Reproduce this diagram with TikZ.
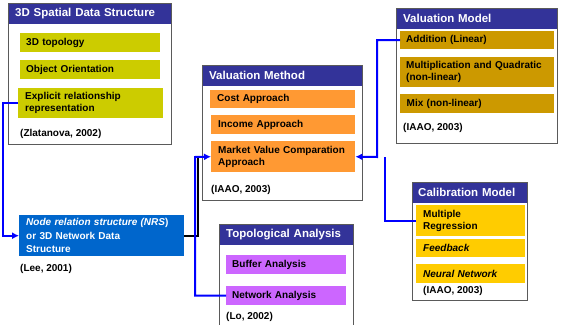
\documentclass[tikz,border=0pt]{standalone}
\usepackage{fontspec}
\setmainfont{Liberation Sans}
\usetikzlibrary{arrows.meta}
\definecolor{hdr}{HTML}{333399}
\definecolor{olivey}{HTML}{CCCC00}
\definecolor{orangey}{HTML}{FF9933}
\definecolor{goldy}{HTML}{CC9900}
\definecolor{violety}{HTML}{CC66FF}
\definecolor{yellowy}{HTML}{FFCC00}
\definecolor{nrsblue}{HTML}{0066CC}
\definecolor{lineblue}{HTML}{0000FF}
\definecolor{framegray}{HTML}{5A5A5A}
\newcommand\myitemfont{\fontsize{10}{12}\selectfont\bfseries}
\newcommand\myhdrfont{\fontsize{11.5}{13}\selectfont\bfseries}
\begin{document}
\begin{tikzpicture}[x=1pt,y=-1pt,
  frame/.style={draw=framegray, line width=1.1pt, anchor=north west, inner sep=0pt},
  header/.style={fill=hdr, text=white, font=\myhdrfont, anchor=north west, inner xsep=7pt, inner ysep=0pt, minimum height=21pt, align=left},
  item/.style={anchor=north west, inner xsep=6pt, inner ysep=0pt, align=left, font=\myitemfont},
  cite/.style={anchor=west, inner sep=0pt, font=\myitemfont},
  conn/.style={draw=lineblue, line width=2pt},
  tip/.style={-{Latex[length=7pt,width=7pt]}}]
\useasboundingbox (0,0) rectangle (562,324);
\clip (0,0) rectangle (562,324);

% 3D Spatial Data Structure
\node[header, text width=149pt] (h1) at (8,3) {3D Spatial Data Structure};
\node[item, fill=olivey, text width=128pt, minimum height=19pt] (t3d) at (20,33) {3D topology};
\node[item, fill=olivey, text width=128pt, minimum height=19pt] (oo) at (20,60) {Object Orientation};
\node[item, fill=olivey, text width=131pt, minimum height=30pt, inner xsep=7pt] (expl) at (18,88) {Explicit relationship\\representation};
\node[cite] (c1) at (20,134) {(Zlatanova, 2002)};
\node[frame, minimum width=163pt, minimum height=141pt] (f1) at (8,3) {};

% Valuation Method
\node[header, text width=146pt] (h2) at (202,65) {Valuation Method};
\node[item, fill=orangey, text width=131pt, minimum height=18pt, inner xsep=7pt] (cost) at (210,90) {Cost Approach};
\node[item, fill=orangey, text width=130pt, minimum height=19pt, inner xsep=7pt] (inc) at (211,115) {Income Approach};
\node[item, fill=orangey, text width=130pt, minimum height=31pt, inner xsep=7pt] (mvc) at (211,141) {Market Value Comparation\\Approach};
\node[cite] (c2) at (211,190) {(IAAO, 2003)};
\node[frame, minimum width=160pt, minimum height=135pt] (f2) at (202,65) {};

% Valuation Model
\node[header, text width=147pt] (h3) at (396,8) {Valuation Model};
\node[item, fill=goldy, text width=142pt, minimum height=18pt] (add) at (400,31) {Addition (Linear)};
\node[item, fill=goldy, text width=142pt, minimum height=30pt] (mult) at (400,57) {Multiplication and Quadratic\\(non-linear)};
\node[item, fill=goldy, text width=141pt, minimum height=19pt, inner xsep=6.5pt] (mix) at (400,94) {Mix (non-linear)};
\node[cite] (c3) at (403,128) {(IAAO, 2003)};
\node[frame, minimum width=161pt, minimum height=135pt] (f3) at (396,8) {};

% Calibration Model
\node[header, text width=103pt, inner xsep=6pt] (h4) at (412,182) {Calibration Model};
\node[item, fill=yellowy, text width=95pt, minimum height=31pt, inner xsep=7pt] (mreg) at (416,205) {Multiple\\Regression};
\node[item, fill=yellowy, text width=95pt, minimum height=18pt, inner xsep=7pt] (feed) at (416,239) {\itshape Feedback};
\node[item, fill=yellowy, text width=95pt, minimum height=19pt, inner xsep=7pt] (neur) at (416,264) {\itshape Neural Network};
\node[cite] (c4) at (423,291) {(IAAO, 2003)};
\node[frame, minimum width=115pt, minimum height=118pt] (f4) at (412,182) {};

% Topological Analysis
\node[header, text width=120pt] (h5) at (219,224) {Topological Analysis};
\node[item, fill=violety, text width=108pt, minimum height=19pt] (buf) at (226,255) {Buffer Analysis};
\node[item, fill=violety, text width=108pt, minimum height=19pt] (netw) at (226,286) {Network Analysis};
\node[cite] (c5) at (226,317) {(Lo, 2002)};
\node[frame, minimum width=134pt, minimum height=110pt] (f5) at (219,224) {};

% NRS
\node[item, fill=nrsblue, text=white, text width=151pt, minimum height=41pt, inner xsep=7pt, font=\fontsize{10}{13.5}\selectfont\bfseries] (nrs) at (19,215) {\textit{Node relation structure (NRS}) \\or 3D Network Data\\Structure};
\node[cite] (c6) at (20,269) {(Lee, 2001)};

% connectors
\coordinate (jl) at (195,157);
\coordinate (jb) at (198,157);
\coordinate (jr) at (377,157);
\coordinate (jr2) at (385,157);
\draw[conn, tip] (expl.west) -- ++(-15,0) |- (nrs.west);
\draw[line width=2pt, black] (nrs.east) -| (jb);
\draw[conn, tip] (netw.west) -| (jl) -- (mvc.west);
\draw[conn, tip] (add.west) -| (jr) -- (mvc.east);
\draw[conn] (mreg.west) -| (jr2);
\end{tikzpicture}
\end{document}
